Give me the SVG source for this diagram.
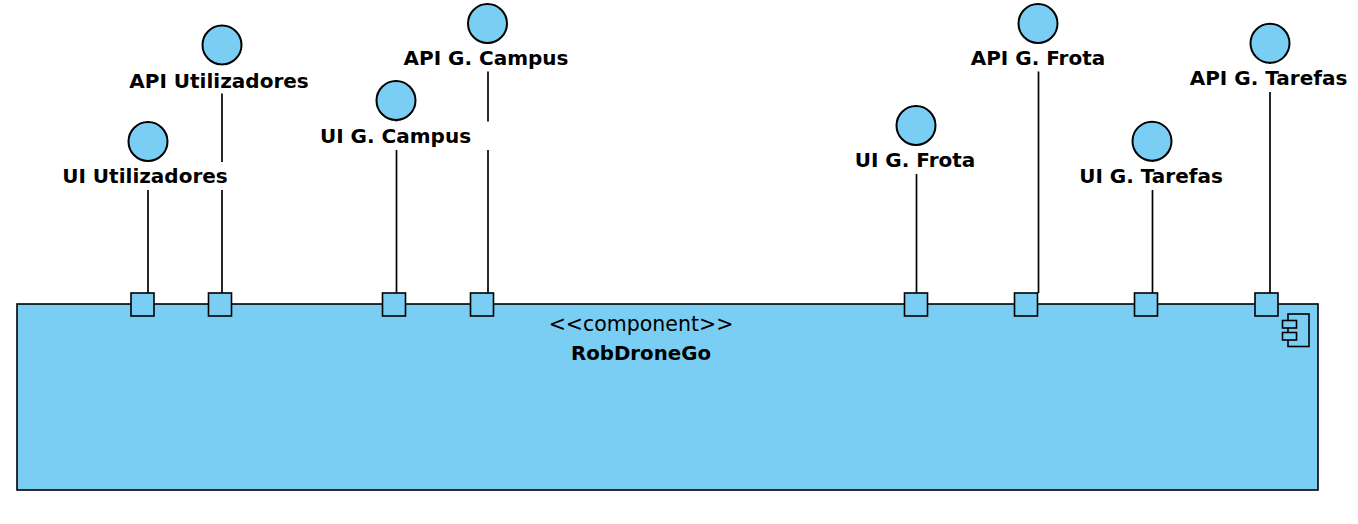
<svg xmlns="http://www.w3.org/2000/svg" width="1358" height="524" viewBox="0 0 1358 524">
<style>
.comp{fill:#7ACEF4;stroke:#000;stroke-width:1.6}
.port{fill:#7ACEF4;stroke:#000;stroke-width:1.6}
.iface{fill:#7ACEF4;stroke:#000;stroke-width:2}
.conn{stroke:#000;stroke-width:1.7;fill:none}
.bg{fill:#fff;stroke:none}
.lbl{font-family:"DejaVu Sans",sans-serif;font-weight:bold;font-size:20px;text-anchor:middle;fill:#000}
.ster{font-family:"DejaVu Sans",sans-serif;font-size:20.5px;text-anchor:middle;fill:#000}
.name{font-family:"DejaVu Sans",sans-serif;font-weight:bold;font-size:19.8px;text-anchor:middle;fill:#000}
</style>
<g id="robdronego">
<rect class="comp" x="17" y="304" width="1301" height="186"/>
<text class="ster" x="641" y="331">&lt;&lt;component&gt;&gt;</text>
<text class="name" x="641" y="360">RobDroneGo</text>
<rect class="comp" x="1288" y="314" width="21" height="32.5"/>
<rect class="comp" x="1282.5" y="320.5" width="14" height="7.5"/>
<rect class="comp" x="1282.5" y="332.5" width="14" height="7.5"/>
</g>
<g id="connectors">
<line class="conn" x1="148" y1="161" x2="148" y2="293"/>
<line class="conn" x1="222" y1="64.5" x2="222" y2="293"/>
<line class="conn" x1="396.5" y1="120" x2="396.5" y2="293"/>
<line class="conn" x1="488" y1="43" x2="488" y2="293"/>
<line class="conn" x1="916.5" y1="145" x2="916.5" y2="293"/>
<line class="conn" x1="1038.5" y1="43" x2="1038.5" y2="293"/>
<line class="conn" x1="1152.5" y1="161" x2="1152.5" y2="293"/>
<line class="conn" x1="1270" y1="63" x2="1270" y2="293"/>
</g>
<g id="ports">
<rect class="port" x="131" y="293" width="23" height="23"/>
<rect class="port" x="208.5" y="293" width="23" height="23"/>
<rect class="port" x="382.5" y="293" width="23" height="23"/>
<rect class="port" x="470.5" y="293" width="23" height="23"/>
<rect class="port" x="904.5" y="293" width="23" height="23"/>
<rect class="port" x="1014.5" y="293" width="23" height="23"/>
<rect class="port" x="1134.5" y="293" width="23" height="23"/>
<rect class="port" x="1255" y="293" width="23" height="23"/>
</g>
<g id="ui-utilizadores">
<circle class="iface" cx="148" cy="141.5" r="19.5"/>
<rect class="bg" x="58" y="162" width="174" height="28"/>
<text class="lbl" x="145" y="183">UI Utilizadores</text>
</g>
<g id="api-utilizadores">
<circle class="iface" cx="222" cy="45" r="19.5"/>
<rect class="bg" x="126" y="65.5" width="186" height="28"/>
<text class="lbl" x="219" y="88">API Utilizadores</text>
</g>
<g id="ui-g-campus">
<circle class="iface" cx="396" cy="100.5" r="19.5"/>
<rect class="bg" x="316" y="121.5" width="180" height="28.5"/>
<text class="lbl" x="395.5" y="143">UI G. Campus</text>
</g>
<g id="api-g-campus">
<circle class="iface" cx="487.5" cy="23.5" r="19.5"/>
<rect class="bg" x="402" y="44" width="168" height="27.5"/>
<text class="lbl" x="486" y="65">API G. Campus</text>
</g>
<g id="ui-g-frota">
<circle class="iface" cx="916" cy="125.5" r="19.5"/>
<rect class="bg" x="852" y="146" width="126" height="28"/>
<text class="lbl" x="915" y="167">UI G. Frota</text>
</g>
<g id="api-g-frota">
<circle class="iface" cx="1038" cy="23.5" r="19.5"/>
<rect class="bg" x="969" y="44" width="138" height="27.5"/>
<text class="lbl" x="1038" y="65">API G. Frota</text>
</g>
<g id="ui-g-tarefas">
<circle class="iface" cx="1152" cy="141.2" r="19.5"/>
<rect class="bg" x="1075" y="162" width="152" height="28"/>
<text class="lbl" x="1151" y="183">UI G. Tarefas</text>
</g>
<g id="api-g-tarefas">
<circle class="iface" cx="1270" cy="43.3" r="19.5"/>
<rect class="bg" x="1186" y="64" width="166" height="28"/>
<text class="lbl" x="1268.5" y="85">API G. Tarefas</text>
</g>
</svg>
